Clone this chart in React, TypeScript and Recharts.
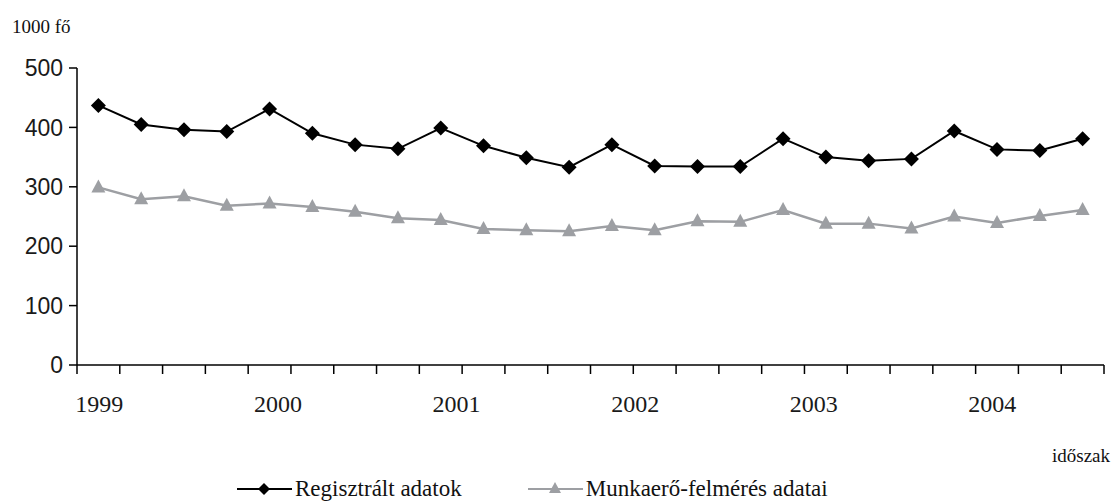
import React from 'react';
import { LineChart, Line, XAxis, YAxis, Legend } from 'recharts';

const quarters = [
  '1999 I.', '1999 II.', '1999 III.', '1999 IV.',
  '2000 I.', '2000 II.', '2000 III.', '2000 IV.',
  '2001 I.', '2001 II.', '2001 III.', '2001 IV.',
  '2002 I.', '2002 II.', '2002 III.', '2002 IV.',
  '2003 I.', '2003 II.', '2003 III.', '2003 IV.',
  '2004 I.', '2004 II.', '2004 III.', '2004 IV.',
];
const registered = [437, 405, 396, 393, 431, 390, 371, 364, 399, 369, 349, 333, 371, 335, 334, 334, 381, 350, 344, 347, 394, 363, 361, 381];
const survey = [299, 279, 284, 268, 272, 266, 258, 247, 244, 229, 227, 225, 234, 227, 242, 241, 261, 238, 238, 230, 250, 239, 251, 261];
const yearLabels = ['1999', '2000', '2001', '2002', '2003', '2004'];
const yTicks = [0, 100, 200, 300, 400, 500];
const seriesOrder = ['reg', 'lfs'];

const data = quarters.map((q, i) => ({ q, pos: i + 0.5, reg: registered[i], lfs: survey[i] }));
const boundaryTicks = Array.from({ length: quarters.length + 1 }, (_, i) => i);
const yearTicks = yearLabels.map((_, i) => i * 4 + 0.5);

const BLACK = '#000000';
const GRAY = '#9d9fa3';
const SERIF = '"Liberation Serif", "Times New Roman", serif';
const SANS = '"Liberation Sans", Arial, sans-serif';

const diamondDot = (props: any) => {
  const { cx, cy, index } = props;
  if (cx == null || cy == null) return <g key={`d-${index}`} />;
  return (
    <polygon
      key={`d-${index}`}
      points={`${cx},${cy - 7.5} ${cx + 7.5},${cy} ${cx},${cy + 7.5} ${cx - 7.5},${cy}`}
      fill={BLACK}
    />
  );
};

const triangleDot = (props: any) => {
  const { cx, cy, index } = props;
  if (cx == null || cy == null) return <g key={`t-${index}`} />;
  return (
    <polygon
      key={`t-${index}`}
      points={`${cx},${cy - 8} ${cx + 7},${cy + 5} ${cx - 7},${cy + 5}`}
      fill={GRAY}
    />
  );
};

const renderLegend = (props: any) => {
  const payload = [...(props.payload || [])].sort(
    (a: any, b: any) => seriesOrder.indexOf(a.dataKey) - seriesOrder.indexOf(b.dataKey)
  );
  return (
    <div style={{ display: 'flex', fontFamily: SERIF, fontSize: 23, lineHeight: '26px', color: '#111', paddingLeft: 237 }}>
      {payload.map((e: any, i: number) => (
        <div key={i} style={{ display: 'flex', alignItems: 'center', marginRight: 66 }}>
          <svg width={58} height={20} style={{ display: 'block' }}>
            <line x1={0} y1={10} x2={55} y2={10} stroke={e.color} strokeWidth={2} />
            {e.dataKey === 'reg' ? (
              <polygon points="27,4 33,10 27,16 21,10" fill={e.color} />
            ) : (
              <polygon points="27,3 33,14 21,14" fill={e.color} />
            )}
          </svg>
          <span style={{ fontFamily: SERIF }}>{e.value}</span>
        </div>
      ))}
    </div>
  );
};

export default function App() {
  return (
    <div style={{ position: 'absolute', left: 0, top: 0, width: 1118, height: 502, background: '#fff' }}>
      <div style={{ position: 'absolute', left: 12, top: 17, fontFamily: SERIF, fontSize: 19, lineHeight: '19px', color: '#111' }}>
        1000 fő
      </div>
      <div style={{ position: 'absolute', left: 1052, top: 446, fontFamily: SERIF, fontSize: 19, lineHeight: '19px', color: '#111' }}>
        időszak
      </div>
      <LineChart width={1118} height={502} data={data} margin={{ top: 68, right: 14, bottom: 77, left: 0 }}>
        <YAxis
          type="number"
          domain={[0, 500]}
          ticks={yTicks}
          interval={0}
          width={77}
          tickSize={8}
          tickMargin={6}
          axisLine={{ stroke: BLACK, strokeWidth: 1.5 }}
          tickLine={{ stroke: BLACK, strokeWidth: 1.5 }}
          tick={{ fill: '#1a1a1a', fontSize: 23, fontFamily: SANS }}
        />
        <XAxis
          xAxisId="q"
          dataKey="pos"
          type="number"
          domain={[0, quarters.length]}
          ticks={boundaryTicks}
          interval={0}
          height={20}
          tickSize={9}
          axisLine={{ stroke: BLACK, strokeWidth: 1.5 }}
          tickLine={{ stroke: BLACK, strokeWidth: 1.5 }}
          tickFormatter={() => ''}
        />
        <XAxis
          xAxisId="yr"
          type="number"
          domain={[0, quarters.length]}
          ticks={yearTicks}
          interval={0}
          height={40}
          tickSize={0}
          tickMargin={10}
          axisLine={false}
          tickLine={false}
          tickFormatter={(v: number) => yearLabels[Math.round((v - 0.5) / 4)]}
          tick={{ fill: '#1a1a1a', fontSize: 24, fontFamily: SERIF }}
        />
        <Line
          xAxisId="q"
          type="linear"
          dataKey="reg"
          name="Regisztrált adatok"
          stroke={BLACK}
          strokeWidth={2}
          dot={diamondDot}
          activeDot={false}
          isAnimationActive={false}
        />
        <Line
          xAxisId="q"
          type="linear"
          dataKey="lfs"
          name="Munkaerő-felmérés adatai"
          stroke={GRAY}
          strokeWidth={2.5}
          dot={triangleDot}
          activeDot={false}
          isAnimationActive={false}
        />
        <Legend
          layout="vertical"
          align="center"
          verticalAlign="middle"
          itemSorter={null}
          wrapperStyle={{ left: 0, top: 476, width: 1118 }}
          content={renderLegend}
        />
      </LineChart>
    </div>
  );
}
